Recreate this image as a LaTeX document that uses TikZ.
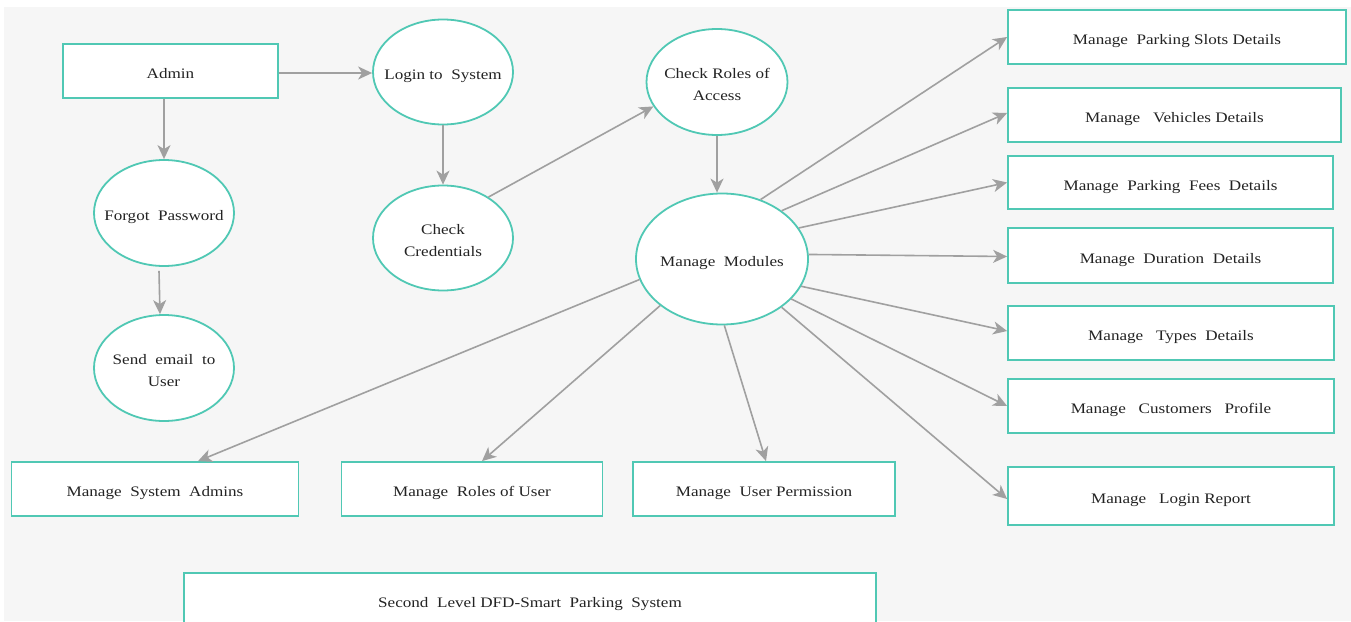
\documentclass[tikz,border=0pt]{standalone}
\usepackage{fontspec}
\setmainfont[FakeStretch=1.18]{Liberation Serif}
\usetikzlibrary{shapes.geometric,arrows.meta,calc}
\definecolor{teal1}{RGB}{80,200,180}
\definecolor{bgc}{RGB}{246,246,246}
\definecolor{arr}{RGB}{160,160,160}
\definecolor{txt}{RGB}{35,35,35}
\newcommand{\zc}[1]{\makebox[0pt][c]{\raisebox{-7.5pt}[0pt][0pt]{#1}}}
\tikzset{
  boxn/.style={draw=teal1,line width=1.8pt,fill=white,inner sep=0pt,text=txt,font=\fontsize{14.5}{22}\selectfont,align=center},
  proc/.style={ellipse,draw=teal1,line width=1.8pt,fill=white,inner sep=0pt,text=txt,font=\fontsize{14.5}{22}\selectfont,align=center},
  flow/.style={draw=arr,line width=1.6pt,-{Stealth[length=14pt,width=13pt,inset=4pt]}}
}
\begin{document}
\begin{tikzpicture}[x=1pt,y=-1pt]
\useasboundingbox (0,0) rectangle (1351,621);
\fill[bgc] (4,7) rectangle (1351,621);
% boxes
\node[boxn,minimum width=215,minimum height=54] (admin) at (170.5,71) {\zc{Admin}};
\node[boxn,minimum width=338,minimum height=54] (b1) at (1177,37) {\zc{Manage~~Parking~Slots~Details}};
\node[boxn,minimum width=333,minimum height=54] (b2) at (1174.5,115) {\zc{Manage~~~Vehicles~Details}};
\node[boxn,minimum width=325,minimum height=53] (b3) at (1170.5,182.5) {\zc{Manage~~Parking~~Fees~~Details}};
\node[boxn,minimum width=325,minimum height=55] (b4) at (1170.5,255.5) {\zc{Manage~~Duration~~Details}};
\node[boxn,minimum width=326,minimum height=54] (b5) at (1171,333) {\zc{Manage~~~Types~~Details}};
\node[boxn,minimum width=326,minimum height=54] (b6) at (1171,406) {\zc{Manage~~~Customers~~~Profile}};
\node[boxn,minimum width=326,minimum height=58] (b7) at (1171,496) {\zc{Manage~~~Login~Report}};
\node[boxn,minimum width=287,minimum height=54] (sa) at (155,489) {\zc{Manage~~System~~Admins}};
\node[boxn,minimum width=261,minimum height=54] (ru) at (472,489) {\zc{Manage~~Roles~of~User}};
\node[boxn,minimum width=262,minimum height=54] (up) at (764,489) {\zc{Manage~~User~Permission}};
\node[boxn,minimum width=692,minimum height=54] (title) at (530,600) {\zc{Second~~Level~DFD-Smart~~Parking~~System}};
% processes
\node[proc,minimum width=140,minimum height=105] (login) at (443,72) {\zc{Login to~~System}};
\node[proc,minimum width=140,minimum height=105] (cc) at (443,238) {\zc{Check}\\\zc{Credentials}};
\node[proc,minimum width=140,minimum height=106] (fp) at (164,213) {\zc{Forgot~~Password}};
\node[proc,minimum width=140,minimum height=106] (se) at (164,368) {\zc{Send~~email~~to}\\\zc{User}};
\node[proc,minimum width=141,minimum height=106] (cr) at (717,82) {\zc{Check Roles of}\\\zc{Access}};
\node[proc,minimum width=172,minimum height=131] (mm) at (722,259) {\zc{Manage~~Modules}};
% connectors
\draw[flow] ([yshift=-2]admin.east) -- ([yshift=-2]admin.east -| login.west);
\draw[flow] (admin.south -| fp.north) -- (fp.north);
\draw[flow] ([xshift=-5,yshift=-4]fp.south) -- ([xshift=-4]se.north);
\draw[flow] (login.south) -- (cc.north);
\draw[flow] (cc.42) -- (cr.201);
\draw[flow] (cr.south) -- (cr.south |- mm.north);
\draw[flow] (mm.57) -- (b1.west);
\draw[flow] (mm.39) -- ([yshift=2]b2.west);
\draw[flow] (mm.22) -- (b3.west);
\draw[flow] (mm.3) -- ([yshift=-1]b4.west);
\draw[flow] (mm.-19) -- ([yshift=2]b5.west);
\draw[flow] (mm.-30) -- (b6.west);
\draw[flow] (mm.-39) -- ([yshift=-3]b7.west);
\draw[flow] (mm.194) -- ([xshift=43]sa.north);
\draw[flow] (mm.217) -- ([xshift=10]ru.north);
\draw[flow] (mm.272) -- ([xshift=2]up.north);
\end{tikzpicture}
\end{document}
